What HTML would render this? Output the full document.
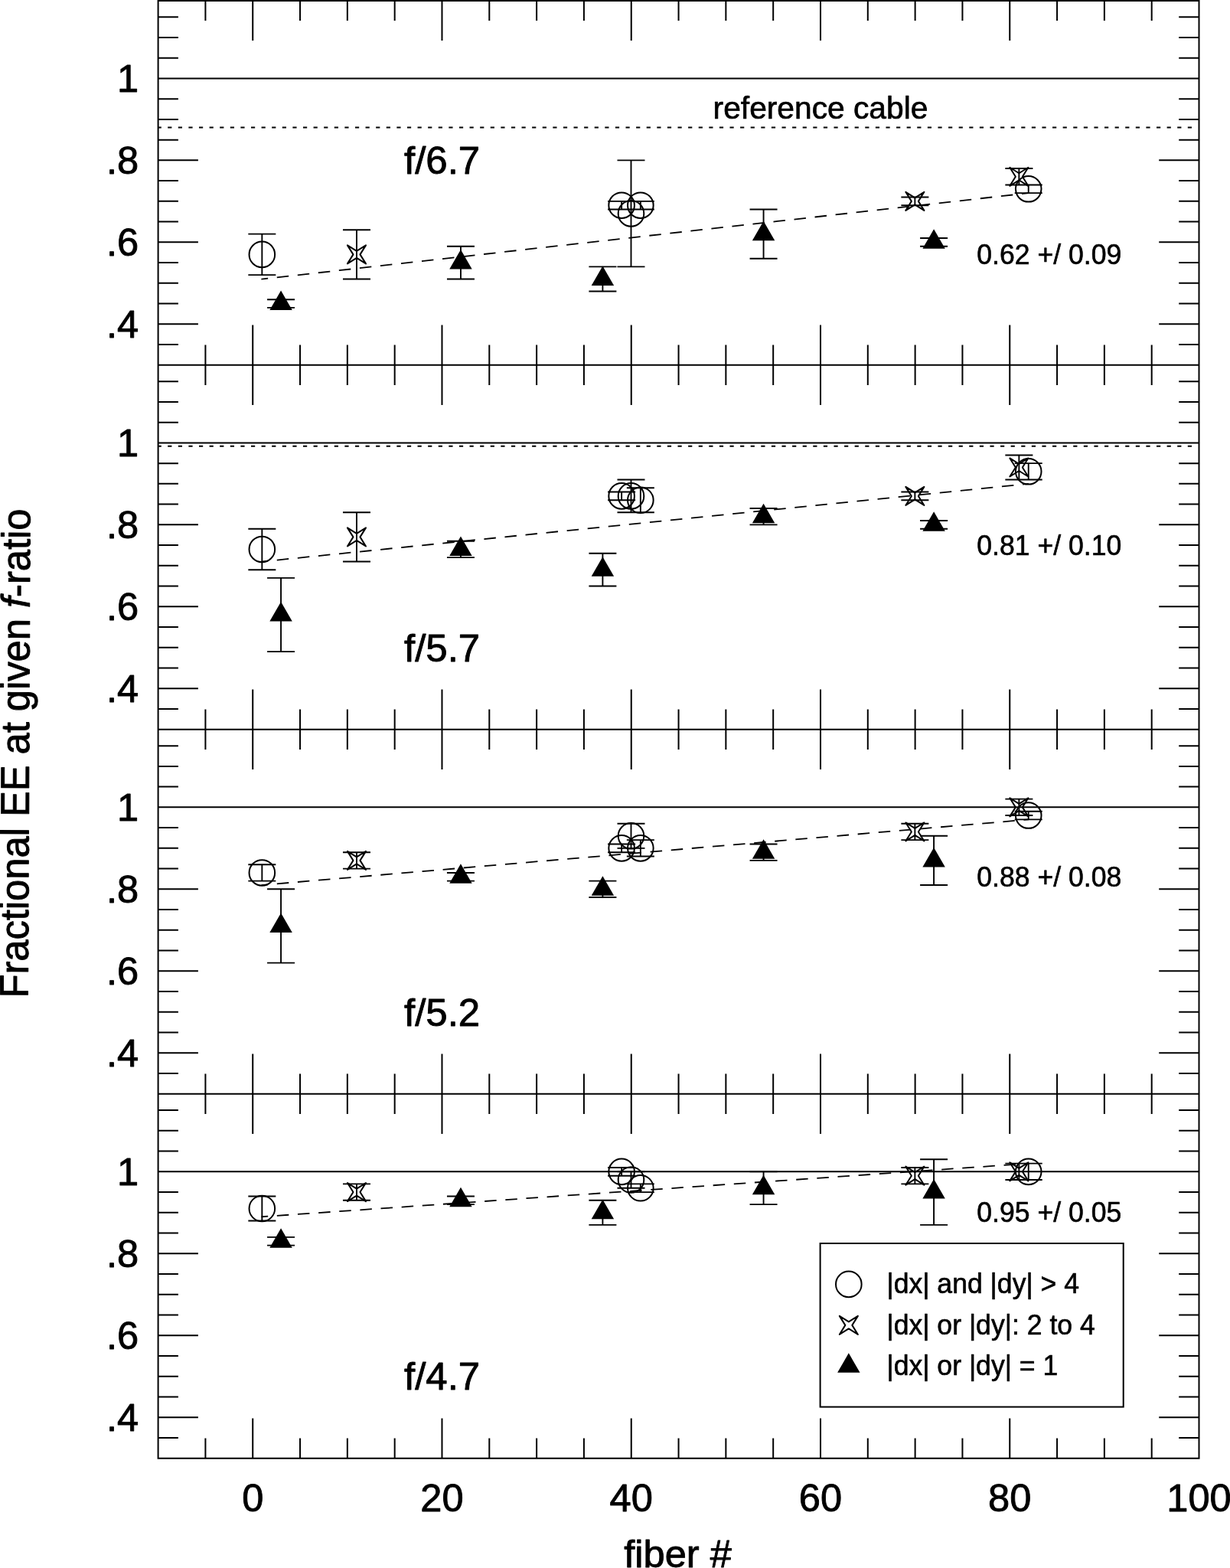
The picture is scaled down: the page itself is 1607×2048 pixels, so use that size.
<!DOCTYPE html>
<html lang="en">
<head>
<meta charset="utf-8">
<title>Fractional EE at given f-ratio</title>
<style>
html,body{margin:0;padding:0;background:#fff;}
body{width:1607px;height:2048px;overflow:hidden;}
svg{display:block;}
text{white-space:pre;}
</style>
</head>
<body>
<svg width="1607" height="2048" viewBox="0 0 1607 2048" role="img" aria-label="Fractional EE at given f-ratio versus fiber number">
<rect width="1607" height="2048" fill="#fff"/>
<g id="axes" fill="none" stroke="#000" stroke-width="2.0" stroke-linecap="butt">
<path d="M206.6 -1.2V1905.7M1566.5 -1.2V1905.7M206.6 1H1566.5M268.41 0.8V27.1M330.23 0.8V53.1M392.04 0.8V27.1M453.85 0.8V27.1M515.67 0.8V27.1M577.48 0.8V53.1M639.3 0.8V27.1M701.11 0.8V27.1M762.92 0.8V27.1M824.74 0.8V53.1M886.55 0.8V27.1M948.36 0.8V27.1M1010.18 0.8V27.1M1071.99 0.8V53.1M1133.8 0.8V27.1M1195.62 0.8V27.1M1257.43 0.8V27.1M1319.25 0.8V53.1M1381.06 0.8V27.1M1442.87 0.8V27.1M1504.69 0.8V27.1M206.6 476.78H1566.5M268.41 450.48V503.08M330.23 424.48V529.08M392.04 450.48V503.08M453.85 450.48V503.08M515.67 450.48V503.08M577.48 424.48V529.08M639.3 450.48V503.08M701.11 450.48V503.08M762.92 450.48V503.08M824.74 424.48V529.08M886.55 450.48V503.08M948.36 450.48V503.08M1010.18 450.48V503.08M1071.99 424.48V529.08M1133.8 450.48V503.08M1195.62 450.48V503.08M1257.43 450.48V503.08M1319.25 424.48V529.08M1381.06 450.48V503.08M1442.87 450.48V503.08M1504.69 450.48V503.08M206.6 952.75H1566.5M268.41 926.45V979.05M330.23 900.45V1005.05M392.04 926.45V979.05M453.85 926.45V979.05M515.67 926.45V979.05M577.48 900.45V1005.05M639.3 926.45V979.05M701.11 926.45V979.05M762.92 926.45V979.05M824.74 900.45V1005.05M886.55 926.45V979.05M948.36 926.45V979.05M1010.18 926.45V979.05M1071.99 900.45V1005.05M1133.8 926.45V979.05M1195.62 926.45V979.05M1257.43 926.45V979.05M1319.25 900.45V1005.05M1381.06 926.45V979.05M1442.87 926.45V979.05M1504.69 926.45V979.05M206.6 1428.73H1566.5M268.41 1402.43V1455.03M330.23 1376.43V1481.03M392.04 1402.43V1455.03M453.85 1402.43V1455.03M515.67 1402.43V1455.03M577.48 1376.43V1481.03M639.3 1402.43V1455.03M701.11 1402.43V1455.03M762.92 1402.43V1455.03M824.74 1376.43V1481.03M886.55 1402.43V1455.03M948.36 1402.43V1455.03M1010.18 1402.43V1455.03M1071.99 1376.43V1481.03M1133.8 1402.43V1455.03M1195.62 1402.43V1455.03M1257.43 1402.43V1455.03M1319.25 1376.43V1481.03M1381.06 1402.43V1455.03M1442.87 1402.43V1455.03M1504.69 1402.43V1455.03M206.6 1904.7H1566.5M268.41 1878.4V1904.7M330.23 1852.4V1904.7M392.04 1878.4V1904.7M453.85 1878.4V1904.7M515.67 1878.4V1904.7M577.48 1852.4V1904.7M639.3 1878.4V1904.7M701.11 1878.4V1904.7M762.92 1878.4V1904.7M824.74 1852.4V1904.7M886.55 1878.4V1904.7M948.36 1878.4V1904.7M1010.18 1878.4V1904.7M1071.99 1852.4V1904.7M1133.8 1878.4V1904.7M1195.62 1878.4V1904.7M1257.43 1878.4V1904.7M1319.25 1852.4V1904.7M1381.06 1878.4V1904.7M1442.87 1878.4V1904.7M1504.69 1878.4V1904.7M206.6 450.03H232.9M1566.5 450.03H1540.2M206.6 423.29H258.9M1566.5 423.29H1514.2M206.6 396.55H232.9M1566.5 396.55H1540.2M206.6 369.81H232.9M1566.5 369.81H1540.2M206.6 343.07H232.9M1566.5 343.07H1540.2M206.6 316.33H258.9M1566.5 316.33H1514.2M206.6 289.59H232.9M1566.5 289.59H1540.2M206.6 262.85H232.9M1566.5 262.85H1540.2M206.6 236.11H232.9M1566.5 236.11H1540.2M206.6 209.37H258.9M1566.5 209.37H1514.2M206.6 182.63H232.9M1566.5 182.63H1540.2M206.6 155.89H232.9M1566.5 155.89H1540.2M206.6 129.15H232.9M1566.5 129.15H1540.2M206.6 75.67H232.9M1566.5 75.67H1540.2M206.6 48.93H232.9M1566.5 48.93H1540.2M206.6 22.19H232.9M1566.5 22.19H1540.2M206.6 926.01H232.9M1566.5 926.01H1540.2M206.6 899.27H258.9M1566.5 899.27H1514.2M206.6 872.53H232.9M1566.5 872.53H1540.2M206.6 845.79H232.9M1566.5 845.79H1540.2M206.6 819.05H232.9M1566.5 819.05H1540.2M206.6 792.31H258.9M1566.5 792.31H1514.2M206.6 765.57H232.9M1566.5 765.57H1540.2M206.6 738.83H232.9M1566.5 738.83H1540.2M206.6 712.09H232.9M1566.5 712.09H1540.2M206.6 685.35H258.9M1566.5 685.35H1514.2M206.6 658.61H232.9M1566.5 658.61H1540.2M206.6 631.87H232.9M1566.5 631.87H1540.2M206.6 605.13H232.9M1566.5 605.13H1540.2M206.6 551.65H232.9M1566.5 551.65H1540.2M206.6 524.91H232.9M1566.5 524.91H1540.2M206.6 498.17H232.9M1566.5 498.17H1540.2M206.6 1401.98H232.9M1566.5 1401.98H1540.2M206.6 1375.24H258.9M1566.5 1375.24H1514.2M206.6 1348.5H232.9M1566.5 1348.5H1540.2M206.6 1321.76H232.9M1566.5 1321.76H1540.2M206.6 1295.02H232.9M1566.5 1295.02H1540.2M206.6 1268.28H258.9M1566.5 1268.28H1514.2M206.6 1241.54H232.9M1566.5 1241.54H1540.2M206.6 1214.8H232.9M1566.5 1214.8H1540.2M206.6 1188.06H232.9M1566.5 1188.06H1540.2M206.6 1161.32H258.9M1566.5 1161.32H1514.2M206.6 1134.58H232.9M1566.5 1134.58H1540.2M206.6 1107.84H232.9M1566.5 1107.84H1540.2M206.6 1081.1H232.9M1566.5 1081.1H1540.2M206.6 1027.62H232.9M1566.5 1027.62H1540.2M206.6 1000.88H232.9M1566.5 1000.88H1540.2M206.6 974.14H232.9M1566.5 974.14H1540.2M206.6 1877.96H232.9M1566.5 1877.96H1540.2M206.6 1851.22H258.9M1566.5 1851.22H1514.2M206.6 1824.48H232.9M1566.5 1824.48H1540.2M206.6 1797.74H232.9M1566.5 1797.74H1540.2M206.6 1771H232.9M1566.5 1771H1540.2M206.6 1744.26H258.9M1566.5 1744.26H1514.2M206.6 1717.52H232.9M1566.5 1717.52H1540.2M206.6 1690.78H232.9M1566.5 1690.78H1540.2M206.6 1664.04H232.9M1566.5 1664.04H1540.2M206.6 1637.3H258.9M1566.5 1637.3H1514.2M206.6 1610.56H232.9M1566.5 1610.56H1540.2M206.6 1583.82H232.9M1566.5 1583.82H1540.2M206.6 1557.08H232.9M1566.5 1557.08H1540.2M206.6 1503.6H232.9M1566.5 1503.6H1540.2M206.6 1476.86H232.9M1566.5 1476.86H1540.2M206.6 1450.12H232.9M1566.5 1450.12H1540.2"/>
</g>
<g id="reflines" fill="none" stroke="#000" stroke-width="2.0">
<line x1="206.6" y1="102.41" x2="1566.5" y2="102.41"/>
<line x1="206.6" y1="166.59" x2="1563.5" y2="166.59" stroke-dasharray="5.2 8.398" stroke-dashoffset="1"/>
<line x1="341.4" y1="364.6" x2="1343.97" y2="252.16" stroke-width="1.8" stroke-dasharray="15.5 11.7" stroke-dashoffset="6.7"/>
<line x1="206.6" y1="578.39" x2="1566.5" y2="578.39"/>
<line x1="206.6" y1="582.67" x2="1563.5" y2="582.67" stroke-dasharray="5.2 8.398" stroke-dashoffset="1"/>
<line x1="341.4" y1="733.6" x2="1343.97" y2="631.87" stroke-width="1.8" stroke-dasharray="15.5 11.7" stroke-dashoffset="6.7"/>
<line x1="206.6" y1="1054.36" x2="1566.5" y2="1054.36"/>
<line x1="341.39" y1="1156.08" x2="1343.97" y2="1070.41" stroke-width="1.8" stroke-dasharray="15.5 11.7" stroke-dashoffset="6.7"/>
<line x1="206.6" y1="1530.34" x2="1566.5" y2="1530.34"/>
<line x1="341.39" y1="1589.25" x2="1343.97" y2="1519.64" stroke-width="1.8" stroke-dasharray="15.5 11.7" stroke-dashoffset="6.7"/>
</g>
<g id="panel1" fill="none" stroke="#000" stroke-width="1.9" stroke-linejoin="round">
<path d="M342.34 305.64V359.12M324.34 305.64H360.34M324.34 359.12H360.34M367.07 391.21V401.9M349.07 391.21H385.07M349.07 401.9H385.07M465.97 300.29V364.47M447.97 300.29H483.97M447.97 364.47H483.97M601.96 321.68V364.47M583.96 321.68H619.96M583.96 364.47H619.96M787.4 348.42V380.51M769.4 348.42H805.4M769.4 380.51H805.4M812.12 262.85V273.55M794.12 262.85H830.12M794.12 273.55H830.12M824.49 209.37V348.42M806.49 209.37H842.49M806.49 348.42H842.49M836.85 262.85V273.55M818.85 262.85H854.85M818.85 273.55H854.85M997.56 273.55V337.73M979.56 273.55H1015.56M979.56 337.73H1015.56M1195.37 257.51V268.2M1177.37 257.51H1213.37M1177.37 268.2H1213.37M1220.09 310.99V321.68M1202.09 310.99H1238.09M1202.09 321.68H1238.09M1331.36 220.07V241.46M1313.36 220.07H1349.36M1313.36 241.46H1349.36M1343.72 241.46V252.16M1325.72 241.46H1361.72M1325.72 252.16H1361.72"/>
<circle cx="342.34" cy="332.38" r="16.8" stroke-width="2.0"/>
<polygon points="477.99,320.36 465.97,327.88 453.95,320.36 461.47,332.38 453.95,344.4 465.97,336.88 477.99,344.4 470.47,332.38" stroke-width="2.0"/>
<circle cx="812.12" cy="268.2" r="16.8" stroke-width="2.0"/>
<circle cx="824.49" cy="278.9" r="16.8" stroke-width="2.0"/>
<circle cx="836.85" cy="268.2" r="16.8" stroke-width="2.0"/>
<polygon points="1207.39,250.83 1195.37,258.35 1183.35,250.83 1190.87,262.85 1183.35,274.87 1195.37,267.35 1207.39,274.87 1199.87,262.85" stroke-width="2.0"/>
<polygon points="1343.38,218.74 1331.36,226.27 1319.34,218.74 1326.86,230.77 1319.34,242.79 1331.36,235.27 1343.38,242.79 1335.86,230.77" stroke-width="2.0"/>
<circle cx="1343.72" cy="246.81" r="16.8" stroke-width="2.0"/>
<g fill="#000" stroke="none">
<polygon points="367.07,379.55 352.34,405.05 381.79,405.05"/>
<polygon points="601.96,326.07 587.23,351.57 616.68,351.57"/>
<polygon points="787.4,347.47 772.68,372.97 802.12,372.97"/>
<polygon points="997.56,288.64 982.84,314.14 1012.29,314.14"/>
<polygon points="1220.09,299.33 1205.37,324.83 1234.82,324.83"/>
</g>
</g>
<g id="panel2" fill="none" stroke="#000" stroke-width="1.9" stroke-linejoin="round">
<path d="M342.34 690.7V744.18M324.34 690.7H360.34M324.34 744.18H360.34M367.07 754.87V851.14M349.07 754.87H385.07M349.07 851.14H385.07M465.97 669.3V733.48M447.97 669.3H483.97M447.97 733.48H483.97M601.96 706.74V728.13M583.96 706.74H619.96M583.96 728.13H619.96M787.4 722.78V765.57M769.4 722.78H805.4M769.4 765.57H805.4M812.12 642.56V653.26M794.12 642.56H830.12M794.12 653.26H830.12M824.49 626.52V669.3M806.49 626.52H842.49M806.49 669.3H842.49M836.85 637.22V669.3M818.85 637.22H854.85M818.85 669.3H854.85M997.56 663.96V685.35M979.56 663.96H1015.56M979.56 685.35H1015.56M1195.37 642.56V653.26M1177.37 642.56H1213.37M1177.37 653.26H1213.37M1220.09 680V690.7M1202.09 680H1238.09M1202.09 690.7H1238.09M1331.36 594.43V626.52M1313.36 594.43H1349.36M1313.36 626.52H1349.36M1343.72 605.13V626.52M1325.72 605.13H1361.72M1325.72 626.52H1361.72"/>
<circle cx="342.34" cy="717.44" r="16.8" stroke-width="2.0"/>
<polygon points="477.99,689.37 465.97,696.89 453.95,689.37 461.47,701.39 453.95,713.41 465.97,705.89 477.99,713.41 470.47,701.39" stroke-width="2.0"/>
<circle cx="812.12" cy="647.91" r="16.8" stroke-width="2.0"/>
<circle cx="824.49" cy="647.91" r="16.8" stroke-width="2.0"/>
<circle cx="836.85" cy="653.26" r="16.8" stroke-width="2.0"/>
<polygon points="1207.39,635.89 1195.37,643.41 1183.35,635.89 1190.87,647.91 1183.35,659.93 1195.37,652.41 1207.39,659.93 1199.87,647.91" stroke-width="2.0"/>
<polygon points="1343.38,598.46 1331.36,605.98 1319.34,598.46 1326.86,610.48 1319.34,622.5 1331.36,614.98 1343.38,622.5 1335.86,610.48" stroke-width="2.0"/>
<circle cx="1343.72" cy="615.82" r="16.8" stroke-width="2.0"/>
<g fill="#000" stroke="none">
<polygon points="367.07,786.01 352.34,811.51 381.79,811.51"/>
<polygon points="601.96,700.44 587.23,725.94 616.68,725.94"/>
<polygon points="787.4,727.18 772.68,752.68 802.12,752.68"/>
<polygon points="997.56,657.65 982.84,683.15 1012.29,683.15"/>
<polygon points="1220.09,668.35 1205.37,693.85 1234.82,693.85"/>
</g>
</g>
<g id="panel3" fill="none" stroke="#000" stroke-width="1.9" stroke-linejoin="round">
<path d="M342.34 1129.24V1150.63M324.34 1129.24H360.34M324.34 1150.63H360.34M367.07 1161.32V1257.59M349.07 1161.32H385.07M349.07 1257.59H385.07M465.97 1113.19V1134.58M447.97 1113.19H483.97M447.97 1134.58H483.97M601.96 1139.93V1150.63M583.96 1139.93H619.96M583.96 1150.63H619.96M787.4 1150.63V1172.02M769.4 1150.63H805.4M769.4 1172.02H805.4M812.12 1102.49V1113.19M794.12 1102.49H830.12M794.12 1113.19H830.12M824.49 1075.75V1107.84M806.49 1075.75H842.49M806.49 1107.84H842.49M836.85 1097.15V1118.54M818.85 1097.15H854.85M818.85 1118.54H854.85M997.56 1102.49V1123.89M979.56 1102.49H1015.56M979.56 1123.89H1015.56M1195.37 1075.75V1097.15M1177.37 1075.75H1213.37M1177.37 1097.15H1213.37M1220.09 1091.8V1155.98M1202.09 1091.8H1238.09M1202.09 1155.98H1238.09M1331.36 1043.67V1065.06M1313.36 1043.67H1349.36M1313.36 1065.06H1349.36M1343.72 1059.71V1070.41M1325.72 1059.71H1361.72M1325.72 1070.41H1361.72"/>
<circle cx="342.34" cy="1139.93" r="16.8" stroke-width="2.0"/>
<polygon points="477.99,1111.87 465.97,1119.39 453.95,1111.87 461.47,1123.89 453.95,1135.91 465.97,1128.39 477.99,1135.91 470.47,1123.89" stroke-width="2.0"/>
<circle cx="812.12" cy="1107.84" r="16.8" stroke-width="2.0"/>
<circle cx="824.49" cy="1091.8" r="16.8" stroke-width="2.0"/>
<circle cx="836.85" cy="1107.84" r="16.8" stroke-width="2.0"/>
<polygon points="1207.39,1074.43 1195.37,1081.95 1183.35,1074.43 1190.87,1086.45 1183.35,1098.47 1195.37,1090.95 1207.39,1098.47 1199.87,1086.45" stroke-width="2.0"/>
<polygon points="1343.38,1042.34 1331.36,1049.86 1319.34,1042.34 1326.86,1054.36 1319.34,1066.38 1331.36,1058.86 1343.38,1066.38 1335.86,1054.36" stroke-width="2.0"/>
<circle cx="1343.72" cy="1065.06" r="16.8" stroke-width="2.0"/>
<g fill="#000" stroke="none">
<polygon points="367.07,1192.46 352.34,1217.96 381.79,1217.96"/>
<polygon points="601.96,1128.28 587.23,1153.78 616.68,1153.78"/>
<polygon points="787.4,1144.32 772.68,1169.82 802.12,1169.82"/>
<polygon points="997.56,1096.19 982.84,1121.69 1012.29,1121.69"/>
<polygon points="1220.09,1106.89 1205.37,1132.39 1234.82,1132.39"/>
</g>
</g>
<g id="panel4" fill="none" stroke="#000" stroke-width="1.9" stroke-linejoin="round">
<path d="M342.34 1562.43V1594.51M324.34 1562.43H360.34M324.34 1594.51H360.34M367.07 1615.91V1626.6M349.07 1615.91H385.07M349.07 1626.6H385.07M465.97 1546.38V1567.77M447.97 1546.38H483.97M447.97 1567.77H483.97M601.96 1562.43V1573.12M583.96 1562.43H619.96M583.96 1573.12H619.96M787.4 1567.77V1599.86M769.4 1567.77H805.4M769.4 1599.86H805.4M812.12 1524.99V1535.69M794.12 1524.99H830.12M794.12 1535.69H830.12M824.49 1530.34V1551.73M806.49 1530.34H842.49M806.49 1551.73H842.49M836.85 1546.38V1557.08M818.85 1546.38H854.85M818.85 1557.08H854.85M997.56 1530.34V1573.12M979.56 1530.34H1015.56M979.56 1573.12H1015.56M1195.37 1524.99V1546.38M1177.37 1524.99H1213.37M1177.37 1546.38H1213.37M1220.09 1514.29V1599.86M1202.09 1514.29H1238.09M1202.09 1599.86H1238.09M1331.36 1519.64V1541.03M1313.36 1519.64H1349.36M1313.36 1541.03H1349.36M1343.72 1519.64V1541.03M1325.72 1519.64H1361.72M1325.72 1541.03H1361.72"/>
<circle cx="342.34" cy="1578.47" r="16.8" stroke-width="2.0"/>
<polygon points="477.99,1545.06 465.97,1552.58 453.95,1545.06 461.47,1557.08 453.95,1569.1 465.97,1561.58 477.99,1569.1 470.47,1557.08" stroke-width="2.0"/>
<circle cx="812.12" cy="1530.34" r="16.8" stroke-width="2.0"/>
<circle cx="824.49" cy="1541.03" r="16.8" stroke-width="2.0"/>
<circle cx="836.85" cy="1551.73" r="16.8" stroke-width="2.0"/>
<polygon points="1207.39,1523.66 1195.37,1531.19 1183.35,1523.66 1190.87,1535.69 1183.35,1547.71 1195.37,1540.19 1207.39,1547.71 1199.87,1535.69" stroke-width="2.0"/>
<polygon points="1343.38,1518.32 1331.36,1525.84 1319.34,1518.32 1326.86,1530.34 1319.34,1542.36 1331.36,1534.84 1343.38,1542.36 1335.86,1530.34" stroke-width="2.0"/>
<circle cx="1343.72" cy="1530.34" r="16.8" stroke-width="2.0"/>
<g fill="#000" stroke="none">
<polygon points="367.07,1604.25 352.34,1629.75 381.79,1629.75"/>
<polygon points="601.96,1550.77 587.23,1576.27 616.68,1576.27"/>
<polygon points="787.4,1566.82 772.68,1592.32 802.12,1592.32"/>
<polygon points="997.56,1534.73 982.84,1560.23 1012.29,1560.23"/>
<polygon points="1220.09,1540.08 1205.37,1565.58 1234.82,1565.58"/>
</g>
</g>
<g id="legend" fill="none" stroke="#000" stroke-width="1.9" stroke-linejoin="round">
<rect x="1071.6" y="1624" width="396.1" height="213.6" stroke-width="2.0" stroke-linejoin="miter"/>
<circle cx="1108.83" cy="1677.41" r="16.8" stroke-width="2.0"/>
<polygon points="1120.85,1718.87 1108.83,1726.39 1096.81,1718.87 1104.33,1730.89 1096.81,1742.91 1108.83,1735.39 1120.85,1742.91 1113.33,1730.89" stroke-width="2.0"/>
<g fill="#000" stroke="none"><polygon points="1108.83,1767.37 1094.11,1792.87 1123.55,1792.87"/></g>
</g>
<g id="labels" font-family='"Liberation Sans", sans-serif' fill="#000" stroke="#000" stroke-linejoin="round">
<text transform="translate(181.2 120.31) scale(1.012 1)" font-size="50" stroke-width="0.9" text-anchor="end">1</text>
<text transform="translate(181.2 227.27) scale(1.012 1)" font-size="50" stroke-width="0.9" text-anchor="end">.8</text>
<text transform="translate(181.2 334.23) scale(1.012 1)" font-size="50" stroke-width="0.9" text-anchor="end">.6</text>
<text transform="translate(181.2 441.19) scale(1.012 1)" font-size="50" stroke-width="0.9" text-anchor="end">.4</text>
<text transform="translate(181.2 596.29) scale(1.012 1)" font-size="50" stroke-width="0.9" text-anchor="end">1</text>
<text transform="translate(181.2 703.25) scale(1.012 1)" font-size="50" stroke-width="0.9" text-anchor="end">.8</text>
<text transform="translate(181.2 810.21) scale(1.012 1)" font-size="50" stroke-width="0.9" text-anchor="end">.6</text>
<text transform="translate(181.2 917.17) scale(1.012 1)" font-size="50" stroke-width="0.9" text-anchor="end">.4</text>
<text transform="translate(181.2 1072.26) scale(1.012 1)" font-size="50" stroke-width="0.9" text-anchor="end">1</text>
<text transform="translate(181.2 1179.22) scale(1.012 1)" font-size="50" stroke-width="0.9" text-anchor="end">.8</text>
<text transform="translate(181.2 1286.18) scale(1.012 1)" font-size="50" stroke-width="0.9" text-anchor="end">.6</text>
<text transform="translate(181.2 1393.14) scale(1.012 1)" font-size="50" stroke-width="0.9" text-anchor="end">.4</text>
<text transform="translate(181.2 1548.24) scale(1.012 1)" font-size="50" stroke-width="0.9" text-anchor="end">1</text>
<text transform="translate(181.2 1655.2) scale(1.012 1)" font-size="50" stroke-width="0.9" text-anchor="end">.8</text>
<text transform="translate(181.2 1762.16) scale(1.012 1)" font-size="50" stroke-width="0.9" text-anchor="end">.6</text>
<text transform="translate(181.2 1869.12) scale(1.012 1)" font-size="50" stroke-width="0.9" text-anchor="end">.4</text>
<text transform="translate(330.23 1974) scale(1.012 1)" font-size="50" stroke-width="0.9" text-anchor="middle">0</text>
<text transform="translate(577.48 1974) scale(1.012 1)" font-size="50" stroke-width="0.9" text-anchor="middle">20</text>
<text transform="translate(824.74 1974) scale(1.012 1)" font-size="50" stroke-width="0.9" text-anchor="middle">40</text>
<text transform="translate(1071.99 1974) scale(1.012 1)" font-size="50" stroke-width="0.9" text-anchor="middle">60</text>
<text transform="translate(1319.25 1974) scale(1.012 1)" font-size="50" stroke-width="0.9" text-anchor="middle">80</text>
<text transform="translate(1566.5 1974) scale(1.012 1)" font-size="50" stroke-width="0.9" text-anchor="middle">100</text>
<text transform="translate(885.55 2047) scale(1.012 1)" font-size="50" stroke-width="0.9" text-anchor="middle">fiber #</text>
<text transform="translate(38 984.05) rotate(-89.75) scale(1.0131 1.05)" font-size="50" stroke-width="0.9" text-anchor="middle">Fractional EE at given <tspan font-style="italic">f</tspan>-ratio</text>
<text transform="translate(528 227.39) scale(1.02 1)" font-size="50" stroke-width="0.9">f/6.7</text>
<text transform="translate(528 863.54) scale(1.02 1)" font-size="50" stroke-width="0.9">f/5.7</text>
<text transform="translate(528 1339.52) scale(1.02 1)" font-size="50" stroke-width="0.9">f/5.2</text>
<text transform="translate(528 1815.49) scale(1.02 1)" font-size="50" stroke-width="0.9">f/4.7</text>
<text transform="translate(931.6 154.55) scale(1.006 1.02)" font-size="40.5" stroke-width="0.7">reference cable</text>
<text transform="translate(1276.3 345.21) scale(1 1.025)" font-size="35.6" stroke-width="0.6">0.62 +/ 0.09</text>
<text transform="translate(1276.3 724.66) scale(1 1.025)" font-size="35.6" stroke-width="0.6">0.81 +/ 0.10</text>
<text transform="translate(1276.3 1157.85) scale(1 1.025)" font-size="35.6" stroke-width="0.6">0.88 +/ 0.08</text>
<text transform="translate(1276.3 1596.12) scale(1 1.025)" font-size="35.6" stroke-width="0.6">0.95 +/ 0.05</text>
<text transform="translate(1158.4 1689.2) scale(1 1.025)" font-size="35.6" stroke-width="0.6">|dx| and |dy| &gt; 4</text>
<text transform="translate(1158.4 1743) scale(1 1.025)" font-size="35.6" stroke-width="0.6">|dx| or |dy|: 2 to 4</text>
<text transform="translate(1158.4 1796.1) scale(1 1.025)" font-size="35.6" stroke-width="0.6">|dx| or |dy| = 1</text>
</g>
</svg>
</body>
</html>
